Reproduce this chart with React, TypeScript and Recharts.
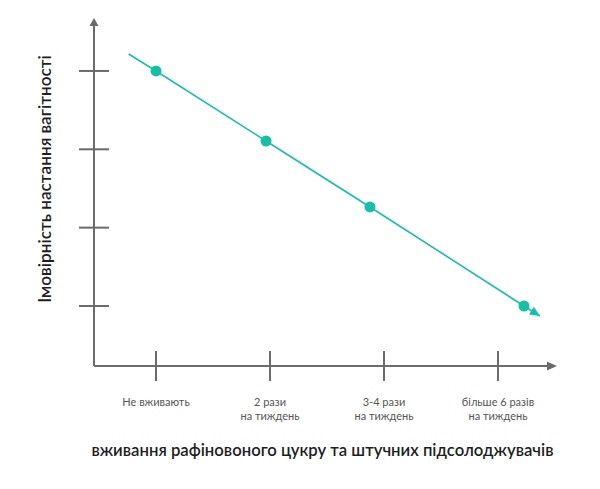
import {
  Line,
  LineChart,
  ReferenceDot,
  XAxis,
  YAxis,
} from "recharts";

const categories = [
  ["Не вживають"],
  ["2 рази", "на тиждень"],
  ["3-4 рази", "на тиждень"],
  ["більше 6 разів", "на тиждень"],
];
const xTicks = [0, 1, 2, 3];
const yTicks = [1, 2, 3, 4];

// trend line: lead-in point, four measured points, arrow tip
const xValues = [-0.24, 0, 0.965, 1.877, 3.228, 3.368];
const yValues = [4.217, 4, 3.106, 2.264, 1, 0.872];

const X_DOMAIN: [number, number] = [-0.544, 3.43];
const Y_DOMAIN: [number, number] = [0.234, 4.574];

const lineData = xValues.map((x, i) => ({ x, y: yValues[i] }));

const TEAL = "#17bfa6";
const AXIS = "#6b6b6b";
const FONT = "Lato, 'Noto Sans', sans-serif";
const ARROW_ANGLE = 32.6;

const XTick = (props: any) => {
  const { x, y, index } = props;
  const lines = categories[index] || [];
  return (
    <g>
      <line x1={x} x2={x} y1={y - 15} y2={y + 15} stroke={AXIS} strokeWidth={2} />
      {lines.map((t, i) => (
        <text
          key={i}
          x={x}
          y={y + 40 + i * 13.5}
          textAnchor="middle"
          fontSize={11}
          fontFamily={FONT}
          fill="#555"
        >
          {t}
        </text>
      ))}
    </g>
  );
};

const YTick = (props: any) => {
  const { x, y } = props;
  return <line x1={x - 15} x2={x + 15} y1={y} y2={y} stroke={AXIS} strokeWidth={2} />;
};

const renderDot = (props: any) => {
  const { cx, cy, index } = props;
  if (index === 0) return <g key={index} />;
  if (index === lineData.length - 1) {
    return (
      <polygon
        key={index}
        points="0,0 -10,-4.5 -10,4.5"
        fill={TEAL}
        transform={`translate(${cx},${cy}) rotate(${ARROW_ANGLE})`}
      />
    );
  }
  return <circle key={index} cx={cx} cy={cy} r={5.5} fill={TEAL} />;
};

const RightArrow = (props: any) => {
  const { cx, cy } = props;
  return <polygon points={`${cx},${cy - 4.5} ${cx + 10},${cy} ${cx},${cy + 4.5}`} fill={AXIS} />;
};

const UpArrow = (props: any) => {
  const { cx, cy } = props;
  return <polygon points={`${cx - 4.5},${cy} ${cx},${cy - 8} ${cx + 4.5},${cy}`} fill={AXIS} />;
};

export default function App() {
  return (
    <LineChart
      width={600}
      height={489}
      data={lineData}
      margin={{ top: 18, right: 61, bottom: 71, left: 26 }}
    >
      <XAxis
        dataKey="x"
        type="number"
        domain={X_DOMAIN}
        allowDataOverflow
        ticks={xTicks}
        interval={0}
        tickSize={0}
        tickMargin={0}
        tickLine={false}
        tick={<XTick />}
        height={60}
        axisLine={{ stroke: AXIS, strokeWidth: 2 }}
        label={{
          content: ({ viewBox }: any) => (
            <text
              x={viewBox.x + viewBox.width / 2 + 2}
              y={viewBox.y + 90}
              textAnchor="middle"
              fontSize={16.7}
              fontWeight={600}
              fontFamily={FONT}
              fill="#1e1e1e"
            >
              вживання рафіновоного цукру та штучних підсолоджувачів
            </text>
          ),
        }}
      />
      <YAxis
        dataKey="y"
        type="number"
        domain={Y_DOMAIN}
        allowDataOverflow
        ticks={yTicks}
        interval={0}
        tickSize={0}
        tickMargin={0}
        tickLine={false}
        tick={<YTick />}
        width={60}
        axisLine={{ stroke: AXIS, strokeWidth: 2 }}
        label={{
          content: ({ viewBox }: any) => (
            <text
              x={viewBox.x + 10}
              y={viewBox.y + 153}
              textAnchor="middle"
              dominantBaseline="central"
              transform={`rotate(-90, ${viewBox.x + 10}, ${viewBox.y + 153})`}
              fontSize={17.2}
              fontWeight={600}
              fontFamily={FONT}
              fill="#1e1e1e"
            >
              Імовірність настання вагітності
            </text>
          ),
        }}
      />
      <ReferenceDot x={X_DOMAIN[1]} y={Y_DOMAIN[0]} ifOverflow="visible" shape={<RightArrow />} />
      <ReferenceDot x={X_DOMAIN[0]} y={Y_DOMAIN[1]} ifOverflow="visible" shape={<UpArrow />} />
      <Line
        type="linear"
        dataKey="y"
        stroke={TEAL}
        strokeWidth={1.6}
        dot={renderDot}
        activeDot={false}
        isAnimationActive={false}
      />
    </LineChart>
  );
}
